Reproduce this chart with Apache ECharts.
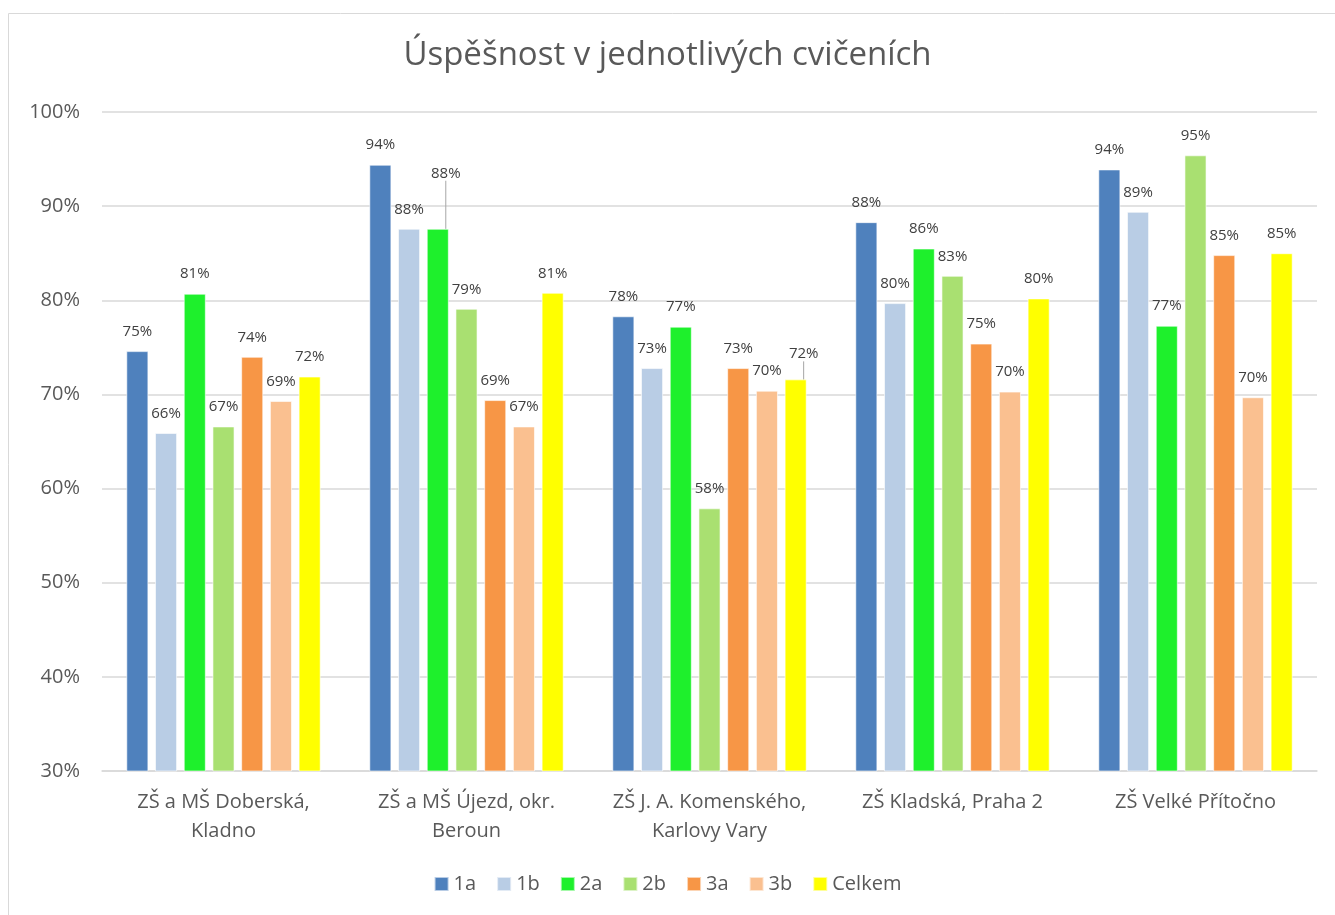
<!DOCTYPE html>
<html>
<head>
<meta charset="utf-8">
<script src="https://cdn.jsdelivr.net/npm/echarts@6/dist/echarts.min.js"></script>
<style>
	html, body { margin: 0; padding: 0; background: #fff; }
	#chart-box { width: 1335px; height: 915px; }
</style>
</head>
<body>
<div id="chart-box"></div>
<script>
var categories = [
	"ZŠ a MŠ Doberská,\nKladno",
	"ZŠ a MŠ Újezd, okr.\nBeroun",
	"ZŠ J. A. Komenského,\nKarlovy Vary",
	"ZŠ Kladská, Praha 2",
	"ZŠ Velké Přítočno"
];
var seriesNames = ["1a", "1b", "2a", "2b", "3a", "3b", "Celkem"];
var values1a = [74.6, 94.4, 78.3, 88.3, 93.9];
var values1b = [65.9, 87.6, 72.8, 79.7, 89.4];
var values2a = [80.7, 87.6, 77.2, 85.5, 77.3];
var values2b = [66.6, 79.1, 57.9, 82.6, 95.4];
var values3a = [74.0, 69.4, 72.8, 75.4, 84.8];
var values3b = [69.3, 66.6, 70.4, 70.3, 69.7];
var valuesTotal = [71.9, 80.8, 71.6, 80.2, 85.0];
var yTicks = [30, 40, 50, 60, 70, 80, 90, 100];

var colors = ["#4F81BD", "#B9CDE5", "#1EF02C", "#A9E071", "#F79646", "#FAC090", "#FFFF00"];
var fontFamily = "Open Sans, Liberation Sans, sans-serif";

// labels that Excel pushed away from their bar, with a leader line: "series-index" -> [dx, dy]
var movedLabels = {
	"2-1": [8, -36],
	"6-2": [8, -6]
};

var chart = echarts.init(document.getElementById("chart-box"));
var allValues = [values1a, values1b, values2a, values2b, values3a, values3b, valuesTotal];

var option = {
	animation: false,
	color: colors,
	title: {
		text: "Úspěšnost v jednotlivých cvičeních",
		left: "center",
		top: 34,
		textStyle: {
			fontFamily: fontFamily,
			fontSize: 33,
			fontWeight: "normal",
			color: "#595959"
		}
	},
	graphic: [
		{
			type: "rect",
			shape: { x: 8.5, y: 13.5, width: 1330, height: 910 },
			style: { fill: "none", stroke: "#D9D9D9", lineWidth: 1 },
			silent: true
		}
	],
	legend: {
		bottom: 16,
		left: "center",
		itemWidth: 14,
		itemHeight: 14,
		itemGap: 20,
		icon: "rect",
		textStyle: {
			fontFamily: fontFamily,
			fontSize: 20,
			color: "#595959"
		},
		data: seriesNames
	},
	grid: {
		left: 102,
		right: 18,
		top: 112,
		bottom: 144
	},
	xAxis: {
		type: "category",
		data: categories,
		axisLine: { lineStyle: { color: "#D9D9D9", width: 1.5 } },
		axisTick: { show: false },
		axisLabel: {
			fontFamily: fontFamily,
			fontSize: 20,
			color: "#595959",
			margin: 17,
			lineHeight: 29,
			interval: 0
		}
	},
	yAxis: {
		type: "value",
		min: yTicks[0],
		max: yTicks[yTicks.length - 1],
		interval: 10,
		axisLine: { show: false },
		axisTick: { show: false },
		splitLine: { lineStyle: { color: "#D9D9D9", width: 1.5 } },
		axisLabel: {
			fontFamily: fontFamily,
			fontSize: 20,
			color: "#595959",
			margin: 22,
			formatter: function (v) {
				return v + "%";
			}
		}
	},
	series: seriesNames.map(function (name, i) {
		return {
			name: name,
			type: "bar",
			barGap: "30%",
			barCategoryGap: "20%",
			data: allValues[i].map(function (v, j) {
				var item = { value: v };
				if (movedLabels[i + "-" + j]) {
					item.labelLine = { show: true };
				}
				return item;
			}),
			itemStyle: {
				color: colors[i],
				borderColor: "rgba(255,255,255,0.6)",
				borderWidth: 1
			},
			label: {
				show: true,
				position: "top",
				distance: 12,
				fontFamily: fontFamily,
				fontSize: 15,
				color: "#404040",
				formatter: function (p) {
					return Math.round(p.value) + "%";
				}
			},
			labelLine: {
				show: false,
				lineStyle: { color: "#A6A6A6", width: 1 }
			},
			labelLayout: function (params) {
				var m = movedLabels[params.seriesIndex + "-" + params.dataIndex];
				if (m) {
					return { dx: m[0], dy: m[1] };
				}
				return {};
			}
		};
	})
};

chart.setOption(option);
</script>
</body>
</html>
